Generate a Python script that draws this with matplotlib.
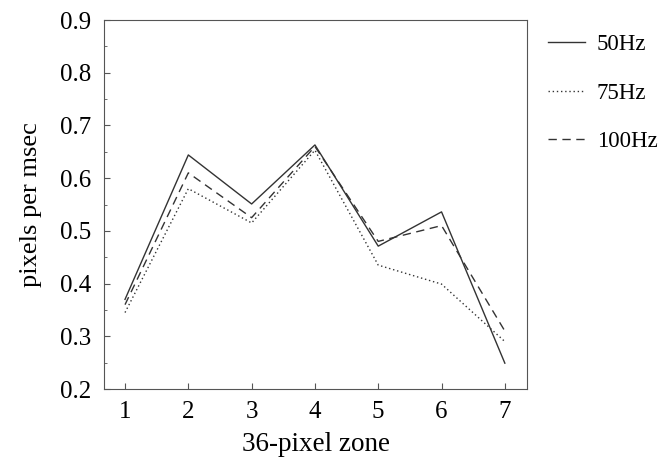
import matplotlib
matplotlib.use("Agg")
import matplotlib.pyplot as plt
from matplotlib.ticker import MultipleLocator

zones = [1, 2, 3, 4, 5, 6, 7]
hz50 = [0.370, 0.644, 0.551, 0.663, 0.471, 0.536, 0.249]
hz75 = [0.345, 0.580, 0.515, 0.653, 0.435, 0.399, 0.290]
hz100 = [0.360, 0.610, 0.525, 0.660, 0.480, 0.510, 0.310]
labels = ["50Hz", "75Hz", "100Hz"]

plt.rcParams['font.family'] = ['Liberation Serif', 'DejaVu Serif']
fig = plt.figure(figsize=(6.61, 4.57), dpi=100)
ax = fig.add_axes([104/661, (457-389)/457, (527-104)/661, (389-20)/457])
c = '#333333'
ax.plot(zones, hz50, color=c, lw=1.0, ls='-', label=labels[0])
ax.plot(zones, hz75, color=c, lw=1.0, ls=(0, (1, 2)), label=labels[1])
ax.plot(zones, hz100, color=c, lw=1.0, ls=(0, (6, 4)), label=labels[2])
ax.set_xlim(0.668, 7.35)
ax.set_ylim(0.2, 0.9)
ax.set_xticks(zones)
ax.set_yticks([0.2, 0.3, 0.4, 0.5, 0.6, 0.7, 0.8, 0.9])
ax.yaxis.set_minor_locator(MultipleLocator(0.05))
ax.tick_params(which='both', direction='in', color='#555555')
ax.tick_params(which='major', labelsize=18, length=4, pad=9)
ax.tick_params(which='minor', length=2.5)
for s in ax.spines.values():
    s.set_color('#555555')
ax.set_xlabel('36-pixel zone', fontsize=19.5, labelpad=6)
ax.set_ylabel('pixels per msec', fontsize=19, labelpad=13)
ax.legend(loc='upper left', bbox_to_anchor=(548/661, 1 - 34/457),
          bbox_transform=fig.transFigure, frameon=False, fontsize=16.5,
          handlelength=1.62, labelspacing=1.2, handletextpad=0.5,
          borderpad=0, borderaxespad=0)
fig.savefig('out.png', dpi=100)
